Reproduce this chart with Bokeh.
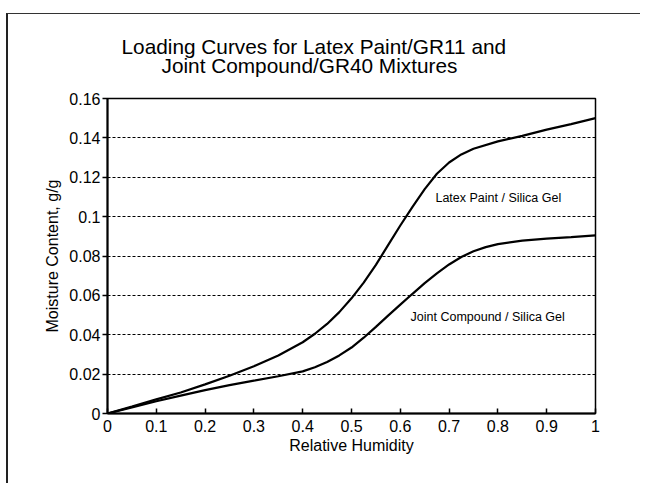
from bokeh.plotting import figure
from bokeh.models import Label, FixedTicker, Range1d, Title
from bokeh.embed import file_html
from bokeh.resources import INLINE

# ---- data ----
latex_rh = [0.0, 0.05, 0.1, 0.15, 0.2, 0.25, 0.3, 0.35, 0.4, 0.425, 0.45, 0.475, 0.5,
            0.525, 0.55, 0.575, 0.6, 0.625, 0.65, 0.675, 0.7, 0.725, 0.75, 0.8, 0.85, 0.9, 0.95, 1.0]
latex_paint = [0.0, 0.0035, 0.0072, 0.0107, 0.0148, 0.0192, 0.0240, 0.0295, 0.0362, 0.0405, 0.0455, 0.0515, 0.0585,
               0.0665, 0.0755, 0.0855, 0.0955, 0.1050, 0.1140, 0.1218, 0.1275, 0.1316, 0.1345, 0.1382, 0.1410, 0.1442,
               0.1470, 0.1500]
joint_rh = [0.0, 0.05, 0.1, 0.15, 0.2, 0.25, 0.3, 0.35, 0.4, 0.425, 0.45, 0.475, 0.5,
            0.525, 0.55, 0.575, 0.6, 0.625, 0.65, 0.675, 0.7, 0.725, 0.75, 0.775, 0.8, 0.85, 0.9, 0.95, 1.0]
joint_compound = [0.0, 0.0031, 0.0062, 0.0091, 0.0119, 0.0144, 0.0167, 0.0189, 0.0214, 0.0235, 0.0262, 0.0295, 0.0335,
                  0.0385, 0.0440, 0.0497, 0.0553, 0.0608, 0.0662, 0.0712, 0.0757, 0.0795, 0.0824, 0.0845, 0.0860,
                  0.0878, 0.0888, 0.0896, 0.0905]
x_ticks = [0, 0.1, 0.2, 0.3, 0.4, 0.5, 0.6, 0.7, 0.8, 0.9, 1.0]
x_tick_labels = ["0", "0.1", "0.2", "0.3", "0.4", "0.5", "0.6", "0.7", "0.8", "0.9", "1"]
y_ticks = [0, 0.02, 0.04, 0.06, 0.08, 0.1, 0.12, 0.14, 0.16]
y_tick_labels = ["0", "0.02", "0.04", "0.06", "0.08", "0.1", "0.12", "0.14", "0.16"]
title_lines = ["Loading Curves for Latex Paint/GR11 and", "Joint Compound/GR40 Mixtures"]
series_labels = ["Latex Paint / Silica Gel", "Joint Compound / Silica Gel"]
label_pos = [(0.672, 0.1097), (0.621, 0.0488)]

FONT = "Liberation Sans"
W, H = 634, 470

p = figure(width=W, height=H, output_backend="svg", toolbar_location=None,
           x_range=Range1d(0, 1), y_range=Range1d(0, 0.16),
           min_border_left=99, min_border_right=47, min_border_top=84, min_border_bottom=71)
p.styles = {"border-left": "2px solid #222", "border-top": "1px solid #333",
            "margin-top": "13px", "margin-left": "6px"}

p.background_fill_color = "white"
p.border_fill_color = "white"
p.outline_line_color = "black"
p.outline_line_width = 1.5

# axes
p.xaxis.ticker = FixedTicker(ticks=x_ticks)
p.yaxis.ticker = FixedTicker(ticks=y_ticks)
p.xaxis.major_label_overrides = {t: l for t, l in zip(x_ticks, x_tick_labels)}
p.yaxis.major_label_overrides = {t: l for t, l in zip(y_ticks, y_tick_labels)}
for ax in (p.xaxis, p.yaxis):
    ax.axis_line_color = "black"
    ax.axis_line_width = 2
    ax.major_tick_line_color = "black"
    ax.major_tick_line_width = 1.5
    ax.minor_tick_line_color = None
    ax.major_label_text_font = FONT
    ax.major_label_text_font_size = "16px"
    ax.major_label_text_color = "black"
    ax.axis_label_text_font = FONT
    ax.axis_label_text_font_size = "16px"
    ax.axis_label_text_font_style = "normal"
    ax.axis_label_text_color = "black"
p.xaxis.major_tick_in = 5
p.xaxis.major_tick_out = 0
p.yaxis.major_tick_in = 0
p.yaxis.major_tick_out = 5
p.xaxis.major_label_standoff = 6
p.yaxis.major_label_standoff = 2
p.xaxis.axis_label = "Relative Humidity"
p.yaxis.axis_label = "Moisture Content, g/g"
p.xaxis.axis_label_standoff = 2
p.yaxis.axis_label_standoff = 5

p.xgrid.grid_line_color = None
p.ygrid.grid_line_color = "black"
p.ygrid.grid_line_dash = "3 2"
p.ygrid.grid_line_width = 1

# curves
p.line(latex_rh, latex_paint, line_color="black", line_width=2.2)
p.line(joint_rh, joint_compound, line_color="black", line_width=2.2)

for txt, (lx, ly) in zip(series_labels, label_pos):
    p.add_layout(Label(x=lx, y=ly, text=txt, text_font=FONT, text_font_size="12.5px",
                       text_color="black", text_baseline="alphabetic", text_align="left"))

# two-line title, placed in the panel above the frame (second line nearest the frame)
t2 = Title(text=title_lines[1], align="left", offset=54, standoff=44,
           text_font=FONT, text_font_size="20.8px", text_font_style="normal", text_color="black")
t1 = Title(text=title_lines[0], align="left", offset=14, standoff=-56,
           text_font=FONT, text_font_size="20.8px", text_font_style="normal", text_color="black")
p.add_layout(t2, "above")
p.add_layout(t1, "above")

open("out.html", "w").write(file_html(p, INLINE))
